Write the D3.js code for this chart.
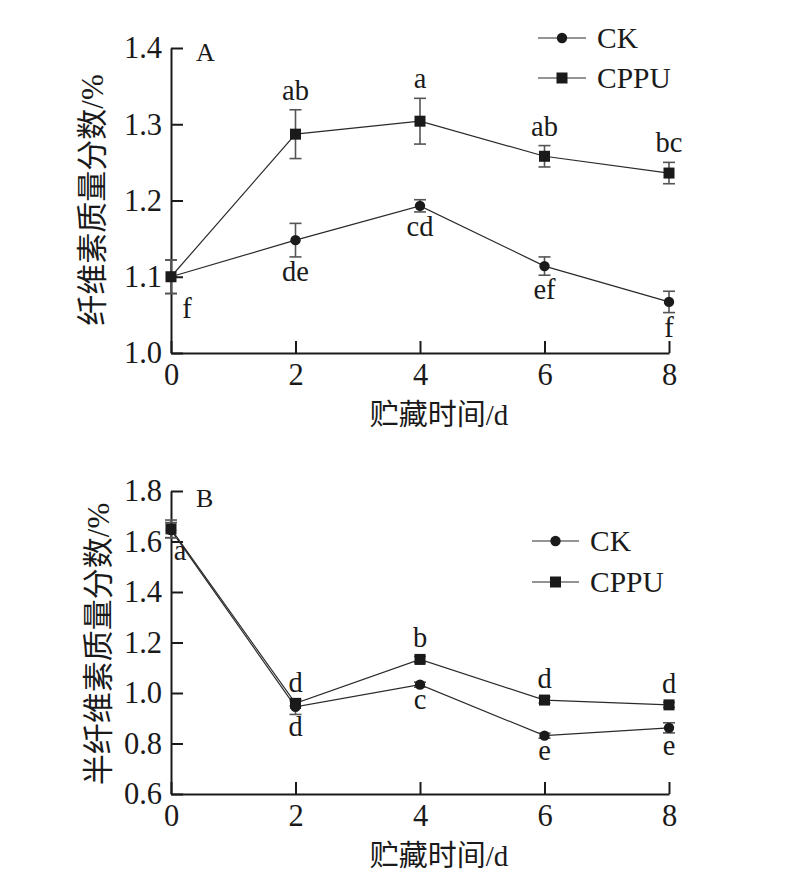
<!DOCTYPE html>
<html>
<head>
<meta charset="utf-8">
<script src="https://cdn.jsdelivr.net/npm/d3@7"></script>
<style>
  body { margin: 0; background: #fff; }
  svg text { font-family: "Liberation Serif", "Noto Sans CJK SC", serif; fill: #1a1a1a; }
</style>
</head>
<body>
<svg id="chart" width="807" height="889"></svg>
<script>
// Data (storage days)
var days = [0, 2, 4, 6, 8];

// Panel A: cellulose
var ckCellulose = [1.100, 1.148, 1.193, 1.114, 1.067];
var ckCelluloseErr = [0.022, 0.022, 0.008, 0.012, 0.014];
var ckCelluloseSig = ["f", "de", "cd", "ef", "f"];
var cppuCellulose = [1.100, 1.287, 1.304, 1.258, 1.236];
var cppuCelluloseErr = [0.022, 0.032, 0.030, 0.014, 0.014];
var cppuCelluloseSig = ["", "ab", "a", "ab", "bc"];
var celluloseTicks = [1.0, 1.1, 1.2, 1.3, 1.4];

// Panel B: hemicellulose
var ckHemi = [1.645, 0.945, 1.033, 0.831, 0.862];
var ckHemiErr = [0.030, 0.030, 0.010, 0.010, 0.020];
var ckHemiSig = ["a", "d", "c", "e", "e"];
var cppuHemi = [1.650, 0.959, 1.133, 0.972, 0.953];
var cppuHemiErr = [0.035, 0.010, 0.012, 0.012, 0.010];
var cppuHemiSig = ["", "d", "b", "d", "d"];
var hemiTicks = [0.6, 0.8, 1.0, 1.2, 1.4, 1.6, 1.8];

var seriesNames = ["CK", "CPPU"];
var xTitle = "贮藏时间/d";

var svg = d3.select("#chart");
var x = d3.scaleLinear().domain([0, 8]).range([171, 669]);

// Draw one panel
function draw_panel(p) {
    var g = svg.append("g");
    var y = d3.scaleLinear().domain(p.domain).range(p.range);

    // axes
    var yAxis = g.append("g")
        .attr("transform", "translate(171,0)")
        .call(d3.axisLeft(y).tickValues(p.ticks).tickFormat(d3.format(".1f"))
            .tickSizeInner(-12).tickSizeOuter(0).tickPadding(9));
    var xAxis = g.append("g")
        .attr("transform", "translate(0," + p.range[0] + ")")
        .call(d3.axisBottom(x).tickValues(days).tickFormat(d3.format("d"))
            .tickSizeInner(-12).tickSizeOuter(0).tickPadding(10));
    [xAxis, yAxis].forEach((a) => {
        a.selectAll("path, line").attr("stroke", "#1a1a1a").attr("stroke-width", 2);
        a.selectAll("text").attr("font-size", 30.5).attr("fill", "#1a1a1a")
            .style("font-family", "Liberation Serif, serif");
    });

    var line = d3.line().x((d, i) => x(days[i])).y((d) => y(d));

    p.series.forEach((s) => {
        // connecting line
        g.append("path").datum(s.values)
            .attr("d", line).attr("fill", "none")
            .attr("stroke", "#2a2a2a").attr("stroke-width", 1.2);

        // error bars
        s.values.forEach((v, i) => {
            var cx = x(days[i]);
            var e = s.err[i];
            var eb = g.append("g").attr("stroke", "#555").attr("stroke-width", 1.6);
            eb.append("line").attr("x1", cx).attr("x2", cx).attr("y1", y(v - e)).attr("y2", y(v + e));
            eb.append("line").attr("x1", cx - 6).attr("x2", cx + 6).attr("y1", y(v - e)).attr("y2", y(v - e));
            eb.append("line").attr("x1", cx - 6).attr("x2", cx + 6).attr("y1", y(v + e)).attr("y2", y(v + e));
        });
    });

    // markers drawn on top
    p.series.forEach((s) => {
        s.values.forEach((v, i) => {
            draw_marker(g, s.shape, x(days[i]), y(v));
        });
        // significance letters
        s.values.forEach((v, i) => {
            if (!s.sig[i]) return;
            var ly = s.above ? y(v + s.err[i]) - p.above : y(v - s.err[i]) + p.below;
            var dx = (i === 0) ? p.firstDx : 0;
            g.append("text").attr("x", x(days[i]) + dx).attr("y", ly)
                .attr("text-anchor", "middle").attr("font-size", 28.5).text(s.sig[i]);
        });
    });

    // legend
    seriesNames.forEach((name, i) => {
        var ly = p.legend.y + i * p.legend.gap;
        g.append("line").attr("x1", p.legend.x1).attr("x2", p.legend.x2)
            .attr("y1", ly).attr("y2", ly).attr("stroke", "#2a2a2a").attr("stroke-width", 1.2);
        draw_marker(g, p.series[i].shape, (p.legend.x1 + p.legend.x2) / 2, ly);
        g.append("text").attr("x", p.legend.tx).attr("y", ly + 10)
            .attr("font-size", 29.5).text(name);
    });

    // panel letter
    g.append("text").attr("x", 196).attr("y", p.labelY).attr("font-size", 26).text(p.label);

    // y title
    g.append("text")
        .attr("transform", "translate(" + p.yTitleX + "," + p.yTitleY + ") rotate(-90)")
        .attr("text-anchor", "middle").attr("dominant-baseline", "central")
        .attr("font-size", 31).text(p.yTitle);

    // x title
    g.append("text").attr("x", 439).attr("y", p.xTitleY)
        .attr("text-anchor", "middle").attr("dominant-baseline", "central")
        .attr("font-size", 29).text(xTitle);
}

function draw_marker(g, shape, cx, cy) {
    if (shape === "circle") {
        g.append("circle").attr("cx", cx).attr("cy", cy).attr("r", 5.2).attr("fill", "#1a1a1a");
    } else {
        g.append("rect").attr("x", cx - 5.5).attr("y", cy - 5.5).attr("width", 11).attr("height", 11)
            .attr("fill", "#1a1a1a");
    }
}

draw_panel({
    domain: [1.0, 1.4], range: [353, 48], ticks: celluloseTicks,
    series: [
        { values: ckCellulose, err: ckCelluloseErr, sig: ckCelluloseSig, shape: "circle", above: false },
        { values: cppuCellulose, err: cppuCelluloseErr, sig: cppuCelluloseSig, shape: "square", above: true }
    ],
    above: 10, below: 24, firstDx: 16,
    legend: { x1: 538, x2: 586, tx: 597, y: 38, gap: 40 },
    label: "A", labelY: 61,
    yTitle: "纤维素质量分数/%", yTitleX: 92, yTitleY: 200,
    xTitleY: 415
});

draw_panel({
    domain: [0.6, 1.8], range: [794, 491], ticks: hemiTicks,
    series: [
        { values: ckHemi, err: ckHemiErr, sig: ckHemiSig, shape: "circle", above: false },
        { values: cppuHemi, err: cppuHemiErr, sig: cppuHemiSig, shape: "square", above: true }
    ],
    above: 9, below: 22, firstDx: 9,
    legend: { x1: 532, x2: 579, tx: 590, y: 541, gap: 41 },
    label: "B", labelY: 507,
    yTitle: "半纤维素质量分数/%", yTitleX: 98, yTitleY: 644,
    xTitleY: 856
});
</script>
</body>
</html>
